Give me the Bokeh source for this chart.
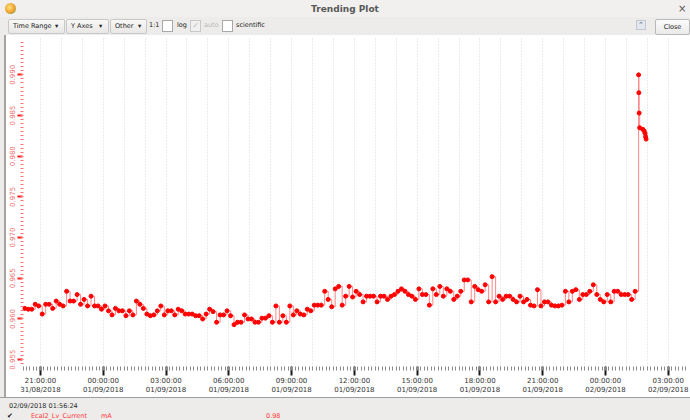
import pandas as pd
import numpy as np
from bokeh.plotting import figure
from bokeh.models import (ColumnDataSource, Range1d, FixedTicker, Div,
                          CustomJSTickFormatter, PrintfTickFormatter)
from bokeh.layouts import column, row
from bokeh.embed import file_html
from bokeh.resources import INLINE

# ---------------- data ----------------
sample_start = "2018-08-31 20:15"
sample_step = "10min"
current_values = [
    0.9613, 0.9612, 0.9612, 0.9618, 0.9616, 0.9606, 0.9618, 0.9618, 0.9613, 0.9622, 0.9618, 0.9616,
    0.9634, 0.9622, 0.9622, 0.9630, 0.9618, 0.9624, 0.9616, 0.9628, 0.9616, 0.9616, 0.9612, 0.9616,
    0.9610, 0.9605, 0.9613, 0.9610, 0.9610, 0.9604, 0.9610, 0.9605, 0.9622, 0.9618, 0.9613, 0.9606,
    0.9604, 0.9605, 0.9610, 0.9616, 0.9605, 0.9610, 0.9610, 0.9605, 0.9612, 0.9610, 0.9606, 0.9606,
    0.9606, 0.9604, 0.9604, 0.9600, 0.9606, 0.9612, 0.9609, 0.9596, 0.9605, 0.9605, 0.9610, 0.9604,
    0.9593, 0.9596, 0.9596, 0.9605, 0.9600, 0.9600, 0.9596, 0.9596, 0.9601, 0.9601, 0.9604, 0.9596,
    0.9616, 0.9596, 0.9604, 0.9596, 0.9616, 0.9605, 0.9610, 0.9606, 0.9605, 0.9612, 0.9610, 0.9617,
    0.9617, 0.9617, 0.9634, 0.9624, 0.9615, 0.9637, 0.9640, 0.9617, 0.9628, 0.9640, 0.9627, 0.9634,
    0.9630, 0.9621, 0.9628, 0.9628, 0.9628, 0.9621, 0.9628, 0.9628, 0.9624, 0.9628, 0.9630, 0.9634,
    0.9637, 0.9634, 0.9630, 0.9628, 0.9624, 0.9637, 0.9630, 0.9630, 0.9617, 0.9637, 0.9630, 0.9640,
    0.9628, 0.9637, 0.9634, 0.9624, 0.9628, 0.9634, 0.9648, 0.9648, 0.9621, 0.9640, 0.9636, 0.9634,
    0.9642, 0.9621, 0.9652, 0.9621, 0.9628, 0.9624, 0.9628, 0.9628, 0.9624, 0.9621, 0.9628, 0.9621,
    0.9624, 0.9617, 0.9616, 0.9636, 0.9616, 0.9621, 0.9621, 0.9617, 0.9616, 0.9616, 0.9617, 0.9634,
    0.9621, 0.9634, 0.9636, 0.9624, 0.9630, 0.9630, 0.9634, 0.9642, 0.9630, 0.9624, 0.9621, 0.9630,
    0.9621, 0.9634, 0.9634, 0.9630, 0.9630, 0.9630, 0.9624, 0.9634,
]
spike_times = [
    "2018-09-02 01:35:00", "2018-09-02 01:35:40", "2018-09-02 01:36:30",
    "2018-09-02 01:38:00", "2018-09-02 01:47:00", "2018-09-02 01:51:00",
    "2018-09-02 01:53:30", "2018-09-02 01:55:00", "2018-09-02 01:56:24",
]
spike_values = [0.9900, 0.9878, 0.9853, 0.9835, 0.9833, 0.9831, 0.9828, 0.9824, 0.9821]

x_start, x_end = "2018-08-31 20:08:30", "2018-09-02 03:58"
y_start, y_end = 0.95416, 0.99471
y_major_ticks = [0.955, 0.960, 0.965, 0.970, 0.975, 0.980, 0.985, 0.990]
x_major_ticks = ["2018-08-31 21:00", "2018-09-01 00:00", "2018-09-01 03:00", "2018-09-01 06:00",
                 "2018-09-01 09:00", "2018-09-01 12:00", "2018-09-01 15:00", "2018-09-01 18:00",
                 "2018-09-01 21:00", "2018-09-02 00:00", "2018-09-02 03:00"]

# ---------------- build ----------------
times = list(pd.date_range(sample_start, periods=len(current_values), freq=sample_step)) + \
    list(pd.to_datetime(spike_times))
vals = current_values + spike_values
src = ColumnDataSource(dict(t=times, v=vals))


def ms(t):
    return pd.Timestamp(t).value / 1e6


p = figure(width=684, height=362, x_axis_type="datetime",
           x_range=Range1d(pd.Timestamp(x_start), pd.Timestamp(x_end)),
           y_range=Range1d(y_start, y_end),
           output_backend="svg", toolbar_location=None,
           min_border_left=15, min_border_right=2, min_border_top=1, min_border_bottom=25)
p.outline_line_color = None
p.background_fill_color = "white"
p.border_fill_color = "white"

# x axis
p.xaxis.ticker = FixedTicker(ticks=[ms(t) for t in x_major_ticks],
                             minor_ticks=[ms(t) for t in pd.date_range("2018-08-31 20:10", x_end, freq="10min")])
p.xaxis.formatter = CustomJSTickFormatter(code="""
const d = new Date(tick);
const f = (n) => (n < 10 ? "0" : "") + n;
return f(d.getUTCHours()) + ":" + f(d.getUTCMinutes()) + ":" + f(d.getUTCSeconds()) + "\\n" +
       f(d.getUTCDate()) + "/" + f(d.getUTCMonth() + 1) + "/" + d.getUTCFullYear();
""")
p.xaxis.axis_line_color = None
p.xaxis.major_tick_line_color = "#1a1a1a"
p.xaxis.major_tick_line_width = 2
p.xaxis.major_tick_out = 9
p.xaxis.major_tick_in = 0
p.xaxis.minor_tick_line_color = "#8a8a8a"
p.xaxis.minor_tick_out = 4
p.xaxis.minor_tick_in = 0
p.xaxis.major_label_standoff = 1
p.xaxis.major_label_text_font = "DejaVu Sans"
p.xaxis.major_label_text_font_size = "7px"
p.xaxis.major_label_text_color = "#333333"

p.xgrid.ticker = FixedTicker(ticks=[ms(t) for t in pd.date_range("2018-08-31 21:00", x_end, freq="1h")])
p.xgrid.grid_line_color = "#d9d9d9"
p.xgrid.grid_line_dash = "1 2"
p.ygrid.visible = False

# y axis
p.yaxis.ticker = FixedTicker(ticks=y_major_ticks,
                             minor_ticks=list(np.round(np.arange(0.9545, 0.99401, 0.0005), 4)))
p.yaxis.formatter = PrintfTickFormatter(format="%.3f")
p.yaxis.axis_line_color = None
p.yaxis.major_tick_line_color = "#ff1a1a"
p.yaxis.major_tick_line_width = 2
p.yaxis.major_tick_out = 5
p.yaxis.major_tick_in = 0
p.yaxis.minor_tick_line_color = "#ff7070"
p.yaxis.minor_tick_out = 2
p.yaxis.minor_tick_in = 1
p.yaxis.major_label_orientation = "vertical"
p.yaxis.major_label_standoff = 2
p.yaxis.major_label_text_font = "DejaVu Sans"
p.yaxis.major_label_text_font_size = "7px"
p.yaxis.major_label_text_color = "#f07070"

p.step(x="t", y="v", source=src, mode="after", line_color="#ff8585", line_width=1)
p.scatter(x="t", y="v", source=src, size=4, fill_color="#ff0000", line_color="#ff0000")

# ---------------- chrome ----------------
W = 690
btn = ("position:absolute;top:19px;height:15px;border:1px solid #c8c8c8;border-radius:2px;"
       "background:linear-gradient(#f8f8f7,#e8e7e5);box-sizing:border-box;font-size:6.5px;"
       "line-height:13px;color:#222;padding-left:4px;")
chk = ("position:absolute;top:20px;width:11px;height:12px;border:1px solid #a8a8a8;"
       "background:#ffffff;box-sizing:border-box;")
lbl = "position:absolute;top:21px;font-size:6.5px;color:#222;"
header_html = f"""
<div style="position:relative;width:{W}px;height:35px;background:#edecea;font-family:'DejaVu Sans';overflow:hidden;">
  <div style="position:absolute;left:0;top:0;width:{W}px;height:17px;background:#f1f0ee;"></div>
  <div style="position:absolute;left:5px;top:3px;width:11px;height:11px;border-radius:50%;
       background:radial-gradient(circle at 40% 40%,#ffe27a,#f0a030 55%,#6aa84f 85%);"></div>
  <div style="position:absolute;left:0;top:3px;width:{W}px;text-align:center;font-weight:bold;font-size:9px;color:#585858;">Trending Plot</div>
  <div style="position:absolute;left:678px;top:2px;font-size:10px;color:#555;">&#215;</div>
  <div style="{btn}left:8px;width:57px;">Time Range<span style="position:absolute;left:46px;">&#9662;</span></div>
  <div style="{btn}left:66px;width:43px;">Y Axes<span style="position:absolute;left:32px;">&#9662;</span></div>
  <div style="{btn}left:110px;width:37px;">Other<span style="position:absolute;left:27px;">&#9662;</span></div>
  <div style="{lbl}left:149px;">1:1</div>
  <div style="{chk}left:162px;"></div>
  <div style="{lbl}left:177px;color:#222;">log</div>
  <div style="{chk}left:190px;background:#f0f0f0;border-color:#c8c8c8;color:#bbbbbb;font-size:8px;line-height:10px;text-align:center;">&#10003;</div>
  <div style="{lbl}left:204px;color:#b8b8b8;">auto</div>
  <div style="{chk}left:222px;"></div>
  <div style="{lbl}left:236px;color:#222;">scientific</div>
  <div style="position:absolute;left:636px;top:20px;width:10px;height:10px;background:#e4e8ee;border:1px solid #c0c8d4;
       box-sizing:border-box;font-size:7px;line-height:8px;text-align:center;color:#557;">&#8963;</div>
  <div style="position:absolute;left:655px;top:19px;width:35px;height:16px;border:1px solid #b8b8b8;border-radius:2px;
       background:linear-gradient(#fbfbfb,#eaeaea);box-sizing:border-box;font-size:6.5px;line-height:14px;text-align:center;color:#222;">Close</div>
</div>
"""
header = Div(text=header_html, width=W, height=35, margin=0)

left_edge = Div(text='<div style="width:6px;height:362px;background:#edecea;box-sizing:border-box;border-right:2px solid #a4a4a4;"></div>',
                width=6, height=362, margin=0)

red = "#ff3636"
footer_html = f"""
<div style="position:relative;width:{W}px;height:23px;background:#edecea;border-top:1px solid #9c9c9c;
     box-sizing:border-box;font-family:'DejaVu Sans';font-size:6.5px;overflow:hidden;">
  <div style="position:absolute;left:9px;top:4px;color:#2a2a2a;">02/09/2018 01:56:24</div>
  <div style="position:absolute;left:7px;top:13px;color:#111;font-size:7px;">&#10004;</div>
  <div style="position:absolute;left:31px;top:14px;color:{red};">Ecal2_Lv_Current</div>
  <div style="position:absolute;left:101px;top:14px;color:{red};">mA</div>
  <div style="position:absolute;left:266px;top:14px;color:{red};">0.98</div>
</div>
"""
footer = Div(text=footer_html, width=W, height=23, margin=0)

layout = column(header, row(left_edge, p, spacing=0), footer, spacing=0)
open("out.html", "w").write(file_html(layout, INLINE))
